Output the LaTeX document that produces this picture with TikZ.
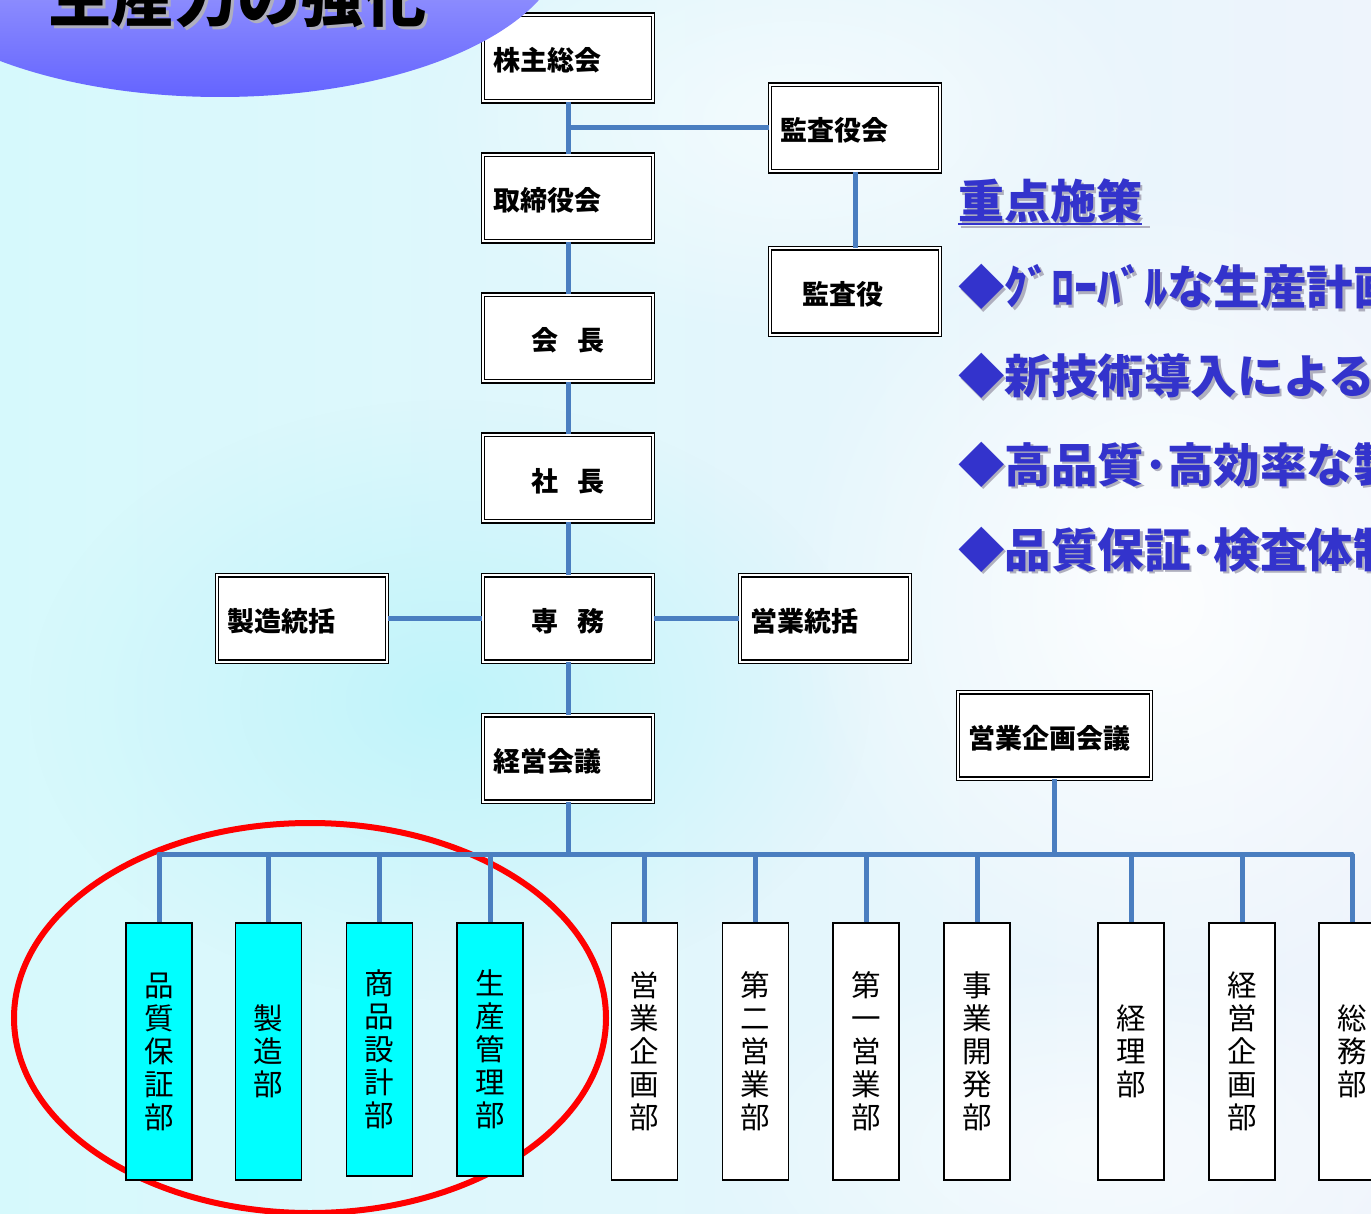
\documentclass[tikz,border=0pt]{standalone}
\usepackage{fontspec}
\newfontfamily\jp{Noto Sans CJK JP}
\usetikzlibrary{fadings}
\tikzfading[name=glow, inner color=transparent!0, outer color=transparent!100]
\definecolor{conn}{RGB}{74,126,192}
\definecolor{ttl}{RGB}{51,51,204}
\definecolor{aqua}{RGB}{0,255,255}
\definecolor{bgl}{RGB}{214,249,252}
\definecolor{bgr}{RGB}{238,244,252}
\definecolor{cyanglow}{RGB}{192,244,250}
\definecolor{blobtop}{RGB}{225,225,250}
\definecolor{blobbot}{RGB}{100,100,255}
\definecolor{shadowgray}{RGB}{175,175,190}
\begin{document}
\begin{tikzpicture}[x=1pt,y=-1pt,
  dbox/.style={draw=black, line width=1.3pt, double=white, double distance=2.2pt,
    fill=white, minimum height=86.5pt, inner sep=10pt, text height=28pt, text depth=2pt,
    font=\jp\bfseries\fontsize{27}{30}\selectfont},
  lbox/.style={dbox, text width=150pt, align=left},
  cbox/.style={dbox, text width=150pt, align=center},
  vbox/.style={draw=black, line width=1.5pt, fill=white, minimum width=66pt,
    minimum height=257pt, inner sep=0pt, align=center,
    font=\jp\fontsize{29.5}{33}\selectfont},
  cbx/.style={vbox, fill=aqua},
  link/.style={draw=conn, line width=5pt},
  heading/.style={anchor=base west, inner sep=0pt, font=\jp\bfseries\fontsize{46}{50}\selectfont},
  bullet/.style={anchor=base west, inner sep=0pt, font=\jp\bfseries\fontsize{46.5}{50}\selectfont},
]
\useasboundingbox (0,0) rectangle (1371,1214);
\clip (0,0) rectangle (1371,1214);

% background
\shade[left color=bgl, right color=bgr] (0,0) rectangle (1371,1214);
\fill[cyanglow, path fading=glow] (450,700) ellipse [x radius=420pt, y radius=300pt];
\fill[white, opacity=0.9, path fading=glow] (1160,600) ellipse [x radius=380pt, y radius=420pt];
\fill[white, opacity=0.6, path fading=glow] (800,120) ellipse [x radius=380pt, y radius=220pt];
\fill[white, opacity=0.6, path fading=glow] (1100,1150) ellipse [x radius=400pt, y radius=200pt];

% red ellipse
\draw[red, line width=6pt] (310,1018) ellipse [x radius=296pt, y radius=195pt];

% main column
\node[lbox] (kabu) at (568,58) {株主総会};
\node[lbox] (tori) at (568,198) {取締役会};
\node[cbox] (kaicho) at (568,338) {会\hspace{0.7em}長};
\node[cbox] (shacho) at (568,478) {社\hspace{0.7em}長};
\node[cbox] (senmu) at (568,618.5) {専\hspace{0.7em}務};
\node[lbox] (keiei) at (568,758.5) {経営会議};
\node[lbox] (kansakai) at (855,128) {監査役会};
\node[lbox] (kansa) at (855,291.5) {\hspace*{22pt}監査役};
\node[lbox] (seizo) at (302,618.5) {製造統括};
\node[lbox] (eigyo) at (825,618.5) {営業統括};
\node[dbox, text width=173pt, align=left] (eikikaku) at (1054.5,735.5) {営業企画会議};

% departments
\node[cbx] (d1) at (159,1051.5) {品\\質\\保\\証\\部};
\node[cbx] (d2) at (268.5,1051.5) {製\\造\\部};
\node[cbx, minimum height=253pt] (d3) at (379.5,1049.5) {商\\品\\設\\計\\部};
\node[cbx, minimum height=253pt] (d4) at (490,1049.5) {生\\産\\管\\理\\部};
\node[vbox] (d5) at (644.5,1051.5) {営\\業\\企\\画\\部};
\node[vbox] (d6) at (755.5,1051.5) {第\\二\\営\\業\\部};
\node[vbox] (d7) at (866,1051.5) {第\\一\\営\\業\\部};
\node[vbox] (d8) at (977,1051.5) {事\\業\\開\\発\\部};
\node[vbox] (d9) at (1131,1051.5) {経\\理\\部};
\node[vbox] (d10) at (1242,1051.5) {経\\営\\企\\画\\部};
\node[vbox] (d11) at (1352,1051.5) {総\\務\\部};

% connectors
\coordinate (busL) at (159,854);
\coordinate (busR) at (1352,854);
\path[link] (kabu.south) -- (tori.north);
\path[link] (kansakai.west) -- (kansakai.west -| kabu.south);
\path[link] (kansakai.south) -- (kansa.north);
\path[link] (tori.south) -- (kaicho.north);
\path[link] (kaicho.south) -- (shacho.north);
\path[link] (shacho.south) -- (senmu.north);
\path[link] (seizo.east) -- (senmu.west);
\path[link] (senmu.east) -- (eigyo.west);
\path[link] (senmu.south) -- (keiei.north);
\path[link] (keiei.south) -- (keiei.south |- busL);
\path[link] (eikikaku.south) -- (eikikaku.south |- busL);
\path[link, line cap=round] (busL) -- (busR);
\foreach \d in {d1,d2,d3,d4,d5,d6,d7,d8,d9,d10,d11}
  \path[link] (\d.north) -- (\d.north |- busL);

% title blob
\shade[top color=blobtop, bottom color=blobbot] (220,-60) ellipse [x radius=345pt, y radius=157pt];
\node[anchor=base west, inner sep=0pt, text=shadowgray, font=\jp\bfseries\fontsize{63}{68}\selectfont] at (51,25) {生産力の強化};
\node[anchor=base west, inner sep=0pt, font=\jp\bfseries\fontsize{63}{68}\selectfont] (title) at (48,22) {生産力の強化};

% key measures
\node[heading, text=shadowgray] at (960.5,221.5) {重点施策};
\draw[shadowgray, line width=2.5pt] (960.5,227) -- (1149.5,227);
\node[heading, text=ttl] (jtitle) at (958,219) {重点施策};
\draw[ttl, line width=2.5pt] ([yshift=-5pt]jtitle.base west) -- ([yshift=-5pt]jtitle.base east);

\foreach \t/\y [count=\i] in {◆ｸﾞﾛｰﾊﾞﾙな生産計画/305, ◆新技術導入による/394, ◆高品質･高効率な製/482, ◆品質保証･検査体制/567}{
  \node[bullet, text=shadowgray] at (960.5,\y+2.5) {\t};
  \node[bullet, text=ttl] (b\i) at (958,\y) {\t};
}
\end{tikzpicture}
\end{document}
